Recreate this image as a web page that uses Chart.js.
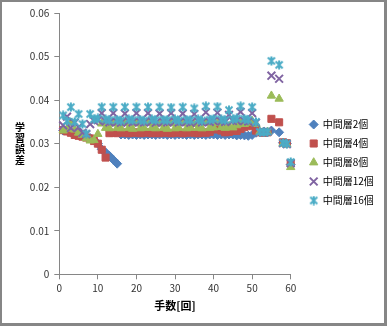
<!DOCTYPE html>
<html lang="ja">
<head>
<meta charset="utf-8">
<title>中間層の数と誤差</title>
<script src="https://cdn.jsdelivr.net/npm/chart.js@4.4.1/dist/chart.umd.min.js"></script>
<style>
  body { margin: 0; background: #fff; }
  .chart-box {
    position: relative;
    width: 387px;
    height: 326px;
    box-sizing: border-box;
    border-style: solid;
    border-color: #868686;
    border-width: 2px 3px 3px 2px;
    background: #fff;
  }
  canvas { display: block; }
  .y-title {
    position: absolute;
    left: 12px;
    top: 119px;
    width: 12px;
    font: bold 10px 'Noto Sans CJK JP', sans-serif;
    line-height: 11px;
    text-align: center;
    color: #000;
    word-break: break-all;
  }
</style>
</head>
<body>
<div class="chart-box">
  <canvas id="errorChart" width="382" height="321"></canvas>
  <div class="y-title" id="yTitle"></div>
</div>
<script>
// Chart Data
const moves = [
  1, 2, 3, 4, 5, 6, 7, 8, 9, 10, 11, 12, 13, 14, 15, 16, 17, 18, 19, 20,
  21, 22, 23, 24, 25, 26, 27, 28, 29, 30, 31, 32, 33, 34, 35, 36, 37, 38, 39, 40,
  41, 42, 43, 44, 45, 46, 47, 48, 49, 50, 51, 52, 53, 54, 55, 56, 57, 58, 59, 60,
];

const hidden2 = [
  0.0330, 0.0332, 0.0326, 0.0322, 0.0320, 0.0318, 0.0316, 0.0313, 0.0308, 0.0300,
  0.0287, 0.0280, 0.0272, 0.0263, 0.0254, 0.0321, 0.0321, 0.0320, 0.0321, 0.0320,
  0.0321, 0.0320, 0.0321, 0.0321, 0.0320, 0.0321, 0.0321, 0.0320, 0.0321, 0.0320,
  0.0321, 0.0321, 0.0320, 0.0321, 0.0320, 0.0321, 0.0321, 0.0320, 0.0321, 0.0321,
  0.0320, 0.0321, 0.0320, 0.0321, 0.0321, 0.0319, 0.0320, 0.0319, 0.0318, 0.0320,
  0.0325, 0.0326, 0.0327, 0.0326, 0.0330, null, 0.0326, 0.0302, 0.0300, 0.0252,
];

const hidden4 = [
  0.0331, 0.0328, 0.0325, 0.0320, 0.0318, 0.0316, 0.0314, 0.0312, 0.0306, 0.0300,
  0.0286, 0.0268, 0.0324, 0.0325, 0.0324, 0.0326, 0.0325, 0.0324, 0.0325, 0.0326,
  0.0324, 0.0325, 0.0326, 0.0324, 0.0325, 0.0324, 0.0326, 0.0325, 0.0324, 0.0325,
  0.0326, 0.0324, 0.0325, 0.0328, 0.0325, 0.0324, 0.0326, 0.0325, 0.0327, 0.0333,
  0.0333, 0.0330, 0.0326, 0.0327, 0.0330, 0.0329, 0.0334, 0.0338, 0.0343, 0.0340,
  0.0330, 0.0326, 0.0325, 0.0326, 0.0357, null, 0.0349, 0.0303, 0.0301, 0.0255,
];

const hidden8 = [
  0.0330, 0.0334, 0.0348, 0.0332, 0.0325, 0.0320, 0.0312, 0.0307, 0.0308, 0.0322,
  0.0346, 0.0336, 0.0335, 0.0346, 0.0336, 0.0335, 0.0347, 0.0336, 0.0334, 0.0346,
  0.0335, 0.0336, 0.0347, 0.0336, 0.0335, 0.0346, 0.0336, 0.0334, 0.0346, 0.0335,
  0.0336, 0.0347, 0.0335, 0.0336, 0.0345, 0.0336, 0.0335, 0.0348, 0.0336, 0.0337,
  0.0347, 0.0338, 0.0336, 0.0340, 0.0337, 0.0342, 0.0350, 0.0345, 0.0348, 0.0352,
  0.0345, 0.0327, 0.0326, 0.0327, 0.0410, null, 0.0403, 0.0300, 0.0298, 0.0246,
];

const hidden12 = [
  0.0342, 0.0362, 0.0336, 0.0348, 0.0338, 0.0325, 0.0322, 0.0345, 0.0352, 0.0354,
  0.0370, 0.0351, 0.0349, 0.0370, 0.0350, 0.0348, 0.0369, 0.0351, 0.0349, 0.0370,
  0.0350, 0.0349, 0.0370, 0.0351, 0.0348, 0.0369, 0.0350, 0.0349, 0.0370, 0.0351,
  0.0349, 0.0369, 0.0350, 0.0348, 0.0368, 0.0351, 0.0349, 0.0372, 0.0350, 0.0352,
  0.0371, 0.0351, 0.0350, 0.0366, 0.0352, 0.0353, 0.0373, 0.0352, 0.0351, 0.0370,
  0.0348, 0.0327, 0.0326, 0.0328, 0.0456, null, 0.0449, 0.0301, 0.0299, 0.0255,
];

const hidden16 = [
  0.0365, 0.0352, 0.0384, 0.0350, 0.0368, 0.0345, 0.0323, 0.0368, 0.0356, 0.0358,
  0.0384, 0.0356, 0.0354, 0.0384, 0.0355, 0.0353, 0.0384, 0.0356, 0.0354, 0.0384,
  0.0355, 0.0353, 0.0384, 0.0356, 0.0354, 0.0384, 0.0355, 0.0354, 0.0383, 0.0356,
  0.0353, 0.0384, 0.0355, 0.0354, 0.0381, 0.0356, 0.0353, 0.0386, 0.0355, 0.0357,
  0.0385, 0.0356, 0.0354, 0.0377, 0.0356, 0.0358, 0.0386, 0.0357, 0.0355, 0.0384,
  0.0350, 0.0327, 0.0326, 0.0327, 0.0490, null, 0.0481, 0.0302, 0.0300, 0.0258,
];

const seriesLabels = ["中間層2個", "中間層4個", "中間層8個", "中間層12個", "中間層16個"];
const xTicks = [0, 10, 20, 30, 40, 50, 60];
const yTicks = [0, 0.01, 0.02, 0.03, 0.04, 0.05, 0.06];
const xTitle = "手数[回]";
const yTitle = "学習誤差";

const family = "'Noto Sans CJK JP', 'Noto Sans', sans-serif";

// Y title as stacked characters, Excel style
document.getElementById("yTitle").textContent = yTitle;

// turn a value list into scatter points, skipping gaps
function toPoints(values) {
  return moves
    .map((m, i) => ({ x: m, y: values[i] }))
    .filter((p) => p.y !== null);
}

// Excel style star marker (X with a vertical bar)
function makeStar(color) {
  const c = document.createElement("canvas");
  c.width = 10;
  c.height = 10;
  const g = c.getContext("2d");
  g.strokeStyle = color;
  g.lineWidth = 2;
  g.beginPath();
  g.moveTo(1.5, 1.5);
  g.lineTo(8.5, 8.5);
  g.moveTo(8.5, 1.5);
  g.lineTo(1.5, 8.5);
  g.moveTo(5, 0.5);
  g.lineTo(5, 9.5);
  g.stroke();
  return c;
}

// Legend on the right side
const sideLegendPlugin = {
  id: "sideLegend",
  afterDraw(chart) {
    const { ctx, chartArea } = chart;
    const sets = chart.data.datasets;
    const rowH = 19;
    const midY = chart.height / 2;
    ctx.save();
    ctx.font = "10px " + family;
    ctx.textBaseline = "middle";
    ctx.textAlign = "left";
    sets.forEach((ds, i) => {
      const y = midY + (i - (sets.length - 1) / 2) * rowH;
      ctx.fillStyle = ds.backgroundColor;
      ctx.strokeStyle = ds.borderColor;
      ctx.lineWidth = ds.borderWidth;
      Chart.helpers.drawPoint(
        ctx,
        { pointStyle: ds.pointStyle, radius: ds.pointRadius, borderWidth: ds.borderWidth, rotation: 0 },
        chartArea.right + 23,
        y
      );
      ctx.fillStyle = "#000";
      ctx.fillText(ds.label, chartArea.right + 32, y);
    });
    ctx.restore();
  },
};

const ctx = document.getElementById("errorChart").getContext("2d");
const chart = new Chart(ctx, {
  type: "scatter",
  data: {
    datasets: [
      {
        label: seriesLabels[0],
        data: toPoints(hidden2),
        pointStyle: "rectRot",
        pointRadius: 4.5,
        backgroundColor: "#4F81BD",
        borderColor: "#4F81BD",
        borderWidth: 1,
        order: 5,
      },
      {
        label: seriesLabels[1],
        data: toPoints(hidden4),
        pointStyle: "rect",
        pointRadius: 5,
        backgroundColor: "#C0504D",
        borderColor: "#C0504D",
        borderWidth: 1,
        order: 4,
      },
      {
        label: seriesLabels[2],
        data: toPoints(hidden8),
        pointStyle: "triangle",
        pointRadius: 4.8,
        backgroundColor: "#9BBB59",
        borderColor: "#9BBB59",
        borderWidth: 1,
        order: 3,
      },
      {
        label: seriesLabels[3],
        data: toPoints(hidden12),
        pointStyle: "crossRot",
        pointRadius: 5.5,
        backgroundColor: "#8064A2",
        borderColor: "#8064A2",
        borderWidth: 2,
        order: 2,
      },
      {
        label: seriesLabels[4],
        data: toPoints(hidden16),
        pointStyle: makeStar("#4BACC6"),
        pointRadius: 5,
        backgroundColor: "#4BACC6",
        borderColor: "#4BACC6",
        borderWidth: 1,
        order: 1,
      },
    ],
  },
  options: {
    responsive: false,
    animation: false,
    events: [],
    clip: false,
    layout: { padding: { top: 10.5, right: 93.3, bottom: 0, left: 0 } },
    plugins: {
      legend: { display: false },
      tooltip: { enabled: false },
    },
    scales: {
      x: {
        type: "linear",
        min: xTicks[0],
        max: xTicks[xTicks.length - 1],
        afterBuildTicks: (scale) => {
          scale.ticks = xTicks.map((v) => ({ value: v }));
        },
        ticks: { color: "#333", font: { size: 10, family }, padding: 3, maxRotation: 0 },
        grid: { drawOnChartArea: false, tickLength: 5, color: "#868686" },
        border: { color: "#868686" },
        title: {
          display: true,
          text: xTitle,
          color: "#000",
          font: { size: 11, weight: "bold", family },
          padding: { top: 0, bottom: 11 },
        },
        afterFit: (scale) => {
          scale.height = 48.7;
        },
      },
      y: {
        type: "linear",
        min: yTicks[0],
        max: yTicks[yTicks.length - 1],
        afterBuildTicks: (scale) => {
          scale.ticks = yTicks.map((v) => ({ value: v }));
        },
        ticks: { color: "#333", font: { size: 10, family }, padding: 5 },
        grid: { drawOnChartArea: false, tickLength: 5, color: "#868686" },
        border: { color: "#868686" },
        afterFit: (scale) => {
          scale.width = 57.3;
        },
      },
    },
  },
  plugins: [sideLegendPlugin],
});
</script>
</body>
</html>
